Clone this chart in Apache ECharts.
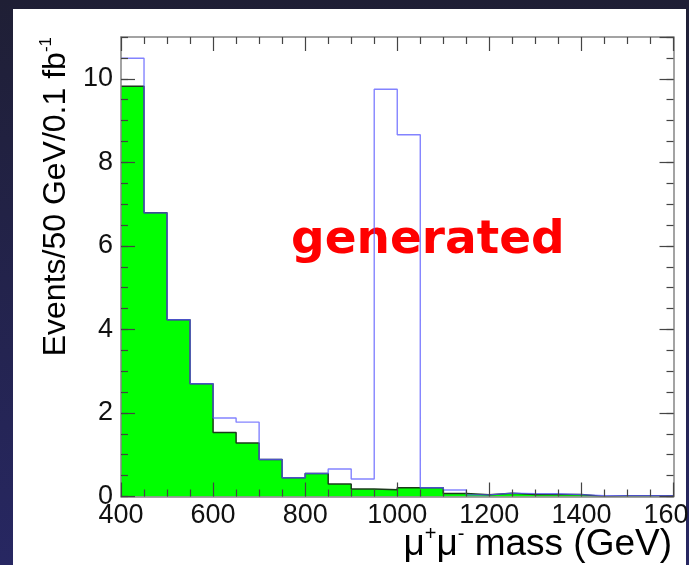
<!DOCTYPE html>
<html>
<head>
<meta charset="utf-8">
<script src="https://cdn.jsdelivr.net/npm/echarts@6/dist/echarts.min.js"></script>
<style>
  html, body { margin: 0; padding: 0; background: #24244a; }
  #chart { width: 689px; height: 565px; }
</style>
</head>
<body>
<div id="chart"></div>
<script>
// Lower edges of the 50 GeV mass bins, and the upper edge of the last bin
const binEdges = [400, 450, 500, 550, 600, 650, 700, 750, 800, 850, 900, 950,
                  1000, 1050, 1100, 1150, 1200, 1250, 1300, 1350, 1400, 1450, 1500, 1550];
const lastEdge = 1600;

// Generated events per bin (signal + Drell-Yan), drawn as an outline
const generatedEvents = [10.49, 6.79, 4.23, 2.70, 1.88, 1.78, 0.885, 0.45, 0.55, 0.66, 0.42, 9.75,
                         8.66, 0.21, 0.155, 0.04, 0.08, 0.07, 0.065, 0.045, 0.02, 0.02, 0.02, 0.02];

// Drell-Yan background per bin, drawn filled
const backgroundEvents = [9.82, 6.79, 4.23, 2.70, 1.53, 1.28, 0.885, 0.45, 0.55, 0.30, 0.18, 0.16,
                          0.21, 0.21, 0.07, 0.04, 0.08, 0.045, 0.045, 0.045, 0.0, 0.02, 0.02, 0.02];

// Axis ranges and tick steps
const xRange = [400, 1600];
const xStep = 200;
const yRange = [0, 11];
const yStep = 2;
const yMinorStep = 0.5;

const labelFont = 'Liberation Sans';

// Histogram as step points: each bin's value holds until the next edge
function stepPoints(values) {
  const pts = binEdges.map((x, i) => [x, values[i]]);
  pts.push([lastEdge, values[values.length - 1]]);
  return pts;
}

const tickStyle = { color: '#444', width: 1.2 };
const frameStyle = { color: '#858585', width: 1.5 };

function xAxisDef(position, withLabels) {
  return {
    type: 'value', position, min: xRange[0], max: xRange[1], interval: xStep, z: 5,
    axisLine: { show: true, onZero: false, lineStyle: frameStyle },
    axisTick: { show: true, inside: true, length: 14, lineStyle: tickStyle },
    minorTick: { show: true, splitNumber: 4, length: 7, lineStyle: tickStyle },
    splitLine: { show: false }, minorSplitLine: { show: false },
    axisLabel: withLabels ? {
      show: true, margin: 6, fontSize: 27, fontFamily: labelFont, color: '#111',
      showMinLabel: true, showMaxLabel: true,
      formatter: (v) => String(v)
    } : { show: false }
  };
}

function yMajorDef(position, withLabels) {
  return {
    type: 'value', position, min: yRange[0], max: yRange[1], interval: yStep, z: 5,
    axisLine: { show: true, onZero: false, lineStyle: frameStyle },
    axisTick: { show: true, inside: true, length: 14, lineStyle: tickStyle },
    splitLine: { show: false },
    axisLabel: withLabels ? {
      show: true, margin: 8, fontSize: 27, fontFamily: labelFont, color: '#111',
      showMinLabel: true, showMaxLabel: false,
      formatter: (v) => String(v)
    } : { show: false }
  };
}

function yMinorDef(position) {
  return {
    type: 'value', position, min: yRange[0], max: yRange[1], interval: yMinorStep, z: 5,
    axisLine: { show: false, onZero: false },
    axisTick: { show: true, inside: true, length: 7, lineStyle: tickStyle },
    splitLine: { show: false },
    axisLabel: { show: false }
  };
}

const chart = echarts.init(document.getElementById('chart'), null, { renderer: 'canvas' });

chart.setOption({
  animation: false,
  backgroundColor: {
    type: 'linear', x: 0, y: 0, x2: 0, y2: 1,
    colorStops: [{ offset: 0, color: '#1f1f35' }, { offset: 1, color: '#272762' }]
  },
  grid: { left: 121, right: 15.5, top: 37, bottom: 68.5, containLabel: false, outerBoundsMode: 'none' },
  graphic: [
    { type: 'rect', z: -10, shape: { x: 13, y: 9, width: 673, height: 556 }, style: { fill: '#ffffff' } },
    {
      type: 'text', z: 1, x: 291, y: 241,
      style: {
        text: 'generated', fill: '#ff0000', font: 'bold 47px "DejaVu Sans"',
        align: 'left', verticalAlign: 'middle'
      }
    },
    {
      type: 'text', z: 1, x: 672, y: 544,
      style: {
        text: '{m|μ}{s|+}{m|μ}{s|-}{m| mass (GeV)}',
        align: 'right', verticalAlign: 'middle',
        rich: {
          m: { fontFamily: labelFont, fontSize: 37, color: '#111', lineHeight: 39, verticalAlign: 'bottom' },
          s: { fontFamily: labelFont, fontSize: 20, color: '#111', lineHeight: 39, verticalAlign: 'top' }
        }
      }
    },
    {
      type: 'text', z: 1, x: 55, y: 37, rotation: Math.PI / 2,
      style: {
        text: '{m|Events/50 GeV/0.1 fb}{s|-1}',
        align: 'right', verticalAlign: 'middle',
        rich: {
          m: { fontFamily: labelFont, fontSize: 32, color: '#111', lineHeight: 35, verticalAlign: 'bottom' },
          s: { fontFamily: labelFont, fontSize: 17, color: '#111', lineHeight: 35, verticalAlign: 'top' }
        }
      }
    }
  ],
  xAxis: [xAxisDef('bottom', true), xAxisDef('top', false)],
  yAxis: [yMajorDef('left', true), yMinorDef('left'), yMajorDef('right', false), yMinorDef('right')],
  series: [
    {
      name: 'background', type: 'line', xAxisIndex: 0, yAxisIndex: 0, z: 2,
      step: 'end', showSymbol: false, symbol: 'none', clip: true,
      data: stepPoints(backgroundEvents),
      lineStyle: { color: '#1c3a1c', width: 1.5 },
      areaStyle: { color: '#00ff00', opacity: 1 }
    },
    {
      name: 'generated', type: 'line', xAxisIndex: 0, yAxisIndex: 0, z: 3,
      step: 'end', showSymbol: false, symbol: 'none', clip: true,
      data: stepPoints(generatedEvents),
      lineStyle: { color: 'rgba(90,90,255,0.75)', width: 1.4 }
    }
  ]
});
</script>
</body>
</html>
